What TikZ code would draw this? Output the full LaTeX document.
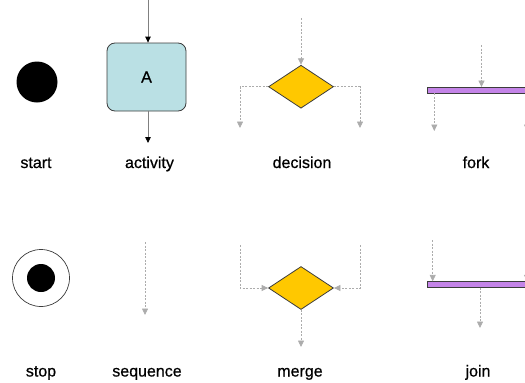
\documentclass[tikz,border=0pt]{standalone}
\usepackage{fontspec}
\setmainfont{Liberation Sans}
\newfontfamily\labelfont[FakeBold=0.6]{Liberation Sans}
\usepackage{tikz}
\usetikzlibrary{arrows.meta, shapes.geometric, positioning}
\definecolor{umlcyan}{RGB}{186,224,228}
\definecolor{umlgold}{RGB}{255,200,0}
\definecolor{umlpurple}{RGB}{196,132,232}
\definecolor{umlline}{RGB}{60,60,60}

\begin{document}
\begin{tikzpicture}[
    x=1pt, y=-1pt,
    initial/.style={circle, fill=black, minimum size=41pt, inner sep=0pt},
    final ring/.style={circle, draw=umlline, line width=0.7pt, fill=white, minimum size=57pt, inner sep=0pt},
    final dot/.style={circle, fill=black, minimum size=28pt, inner sep=0pt},
    activity box/.style={rectangle, rounded corners=8pt, draw=umlline, line width=0.8pt, fill=umlcyan, minimum width=79pt, minimum height=68pt, font=\labelfont\fontsize{16}{19}\selectfont},
    choice/.style={diamond, draw=umlline, line width=0.8pt, fill=umlgold, minimum width=65pt, minimum height=43pt, inner sep=0pt},
    sync bar/.style={rectangle, draw=umlline, line width=0.8pt, fill=umlpurple, minimum width=112.5pt, minimum height=5.5pt, inner sep=0pt},
    flow/.style={-{Triangle[black, width=5.5pt, length=6pt]}, gray, line width=0.8pt},
    dflow/.style={-{Triangle[width=6pt, length=6.5pt]}, gray!65, line width=0.8pt, dash pattern=on 2pt off 1.5pt},
    symbol label/.style={anchor=base, font=\labelfont\fontsize{16}{19}\selectfont, text=black}
]
    \useasboundingbox (0,0) rectangle (525,383);

    % Start and stop
    \node[initial] (start) at (37,82) {};
    \node[final ring] (stop) at (41,278) {};
    \node[final dot] (stopdot) at (41,278) {};

    % Activity
    \node[activity box] (act) at (146.5,77) {A};
    \coordinate (actin) at (148,0);
    \coordinate (actout) at (148,143);
    \draw[flow] (actin) -- (actin |- act.north);
    \draw[flow] (actout |- act.south) -- (actout);

    % Sequence
    \coordinate (seqtop) at (145,242);
    \coordinate (seqend) at (145,315);
    \draw[dflow] (seqtop) -- (seqend);

    % Decision
    \node[choice] (dec) at (301,86.7) {};
    \coordinate (decin) at (301,18);
    \coordinate (decoutL) at (240,128);
    \coordinate (decoutR) at (360,128);
    \draw[dflow] (decin) -- (dec.north);
    \draw[dflow] (dec.west) -| (decoutL);
    \draw[dflow] (dec.east) -| (decoutR);

    % Merge
    \node[choice] (merge) at (301,288) {};
    \coordinate (mergeinL) at (240,245);
    \coordinate (mergeinR) at (360,245);
    \coordinate (mergeout) at (301,347);
    \draw[dflow] (mergeinL) |- (merge.west);
    \draw[dflow] (mergeinR) |- (merge.east);
    \draw[dflow] (merge.south) -- (mergeout);

    % Fork
    \node[sync bar] (fork) at (483.75,90.2) {};
    \coordinate (forkin) at (481.5,45);
    \coordinate (forkoutL) at (434.3,131);
    \coordinate (forkoutR) at (527,131);
    \draw[dflow] (forkin) -- (forkin |- fork.north);
    \draw[dflow] (forkoutL |- fork.south) -- (forkoutL);
    \draw[dflow] (forkoutR |- fork.south) -- (forkoutR);

    % Join
    \node[sync bar] (join) at (483.75,284.5) {};
    \coordinate (joininL) at (432.7,240);
    \coordinate (joininR) at (527,240);
    \coordinate (joinout) at (480,328);
    \draw[dflow] (joininL) -- (joininL |- join.north);
    \draw[dflow] (joininR) -- (joininR |- join.north);
    \draw[dflow] (joinout |- join.south) -- (joinout);

    % Labels
    \node[symbol label] (lstart) at (36,168) {start};
    \node[symbol label] (lact) at (149.5,168) {activity};
    \node[symbol label] (ldec) at (302,168) {decision};
    \node[symbol label] (lfork) at (476,168) {fork};
    \node[symbol label] (lstop) at (41,376.5) {stop};
    \node[symbol label] (lseq) at (147,376.5) {sequence};
    \node[symbol label] (lmerge) at (300,376.5) {merge};
    \node[symbol label] (ljoin) at (478,376.5) {join};
\end{tikzpicture}
\end{document}
